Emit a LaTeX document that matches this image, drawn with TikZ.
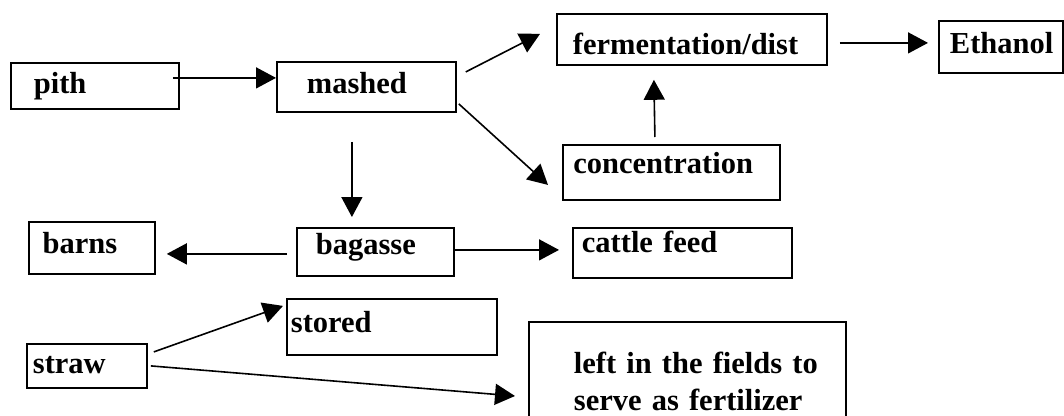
\documentclass[tikz,border=0pt]{standalone}
\usepackage{fontspec}
\setmainfont{Liberation Serif}
\usepackage{tikz}
\usetikzlibrary{arrows.meta}

\begin{document}
\begin{tikzpicture}[%
	x=1pt, y=-1pt,
	box/.style n args={4}{
		draw, line width=1.8pt, anchor=north west, align=left,
		font=\fontsize{30.5}{37}\selectfont\bfseries,
		% width, left padding, height above and below the baseline
		inner ysep=0pt, inner xsep=#2,
		text width=#1-2*#2, text height=#3, text depth=#4,
	},
	flow/.style={-{Triangle[length=20pt,width=21pt]}, line width=1.6pt},
	]
	\useasboundingbox (0,0) rectangle (1064,415);

	% draw boxes
	\node[box={168pt}{23pt}{30.5pt}{15.5pt}] (pith) at (10,62) {pith};
	\node[box={179pt}{30pt}{31.5pt}{18.5pt}] (mashed) at (276,61) {mashed};
	\node[box={270pt}{16pt}{40.3pt}{10.7pt}] (ferment) at (556,13) {fermentation/dist};
	\node[box={124pt}{11pt}{33pt}{19pt}] (ethanol) at (938,20) {Ethanol};
	\node[box={217pt}{10.5pt}{28.7pt}{26.3pt}] (concentr) at (562,144) {concentration};
	\node[box={126pt}{13.7pt}{31.7pt}{20.3pt}] (barns) at (28,221) {barns};
	\node[box={157pt}{19pt}{26.3pt}{21.7pt}] (bagasse) at (296,227) {bagasse};
	\node[box={219pt}{9pt}{24.7pt}{25.3pt}] (cattle) at (572,227) {cattle feed};
	\node[box={210pt}{4pt}{33.7pt}{22.3pt}] (stored) at (286,298) {stored};
	\node[box={120pt}{6pt}{29.7pt}{14.3pt}] (straw) at (26,343) {straw};
	\node[box={317pt}{45pt}{51.5pt}{67.5pt}] (fields) at (528,321)
		{\mbox{left in the fields to}\\\mbox{serve as fertilizer}};

	% draw arrows
	\draw[flow] ([xshift=-7pt,yshift=8pt]pith.east) -- ([yshift=9pt]mashed.west);
	\draw[flow] ([xshift=9pt,yshift=15pt]mashed.east) -- ([xshift=-16pt,yshift=5.5pt]ferment.west);
	\draw[flow] ([xshift=2pt,yshift=-17pt]mashed.east) -- ([xshift=-14pt,yshift=-12.5pt]concentr.west);
	\draw[flow] ([xshift=-14.5pt,yshift=-29pt]mashed.south) -- ([xshift=-23.5pt,yshift=10pt]bagasse.north);
	\draw[flow] ([xshift=-16.5pt,yshift=7pt]concentr.north) -- ([xshift=-38pt,yshift=-14pt]ferment.south);
	\draw[flow] ([xshift=12pt,yshift=-3.5pt]ferment.east) -- ([xshift=-10pt,yshift=4pt]ethanol.west);
	\draw[flow] ([xshift=-9pt,yshift=-2pt]bagasse.west) -- ([xshift=11pt,yshift=-6pt]barns.east);
	\draw[flow] ([yshift=2pt]bagasse.east) -- ([xshift=-13pt,yshift=3pt]cattle.west);
	\draw[flow] ([xshift=6pt,yshift=14pt]straw.east) -- ([xshift=-3pt,yshift=21pt]stored.west);
	\draw[flow] ([xshift=3pt]straw.east) -- ([xshift=-13pt,yshift=-75pt]fields.north west);
\end{tikzpicture}
\end{document}
